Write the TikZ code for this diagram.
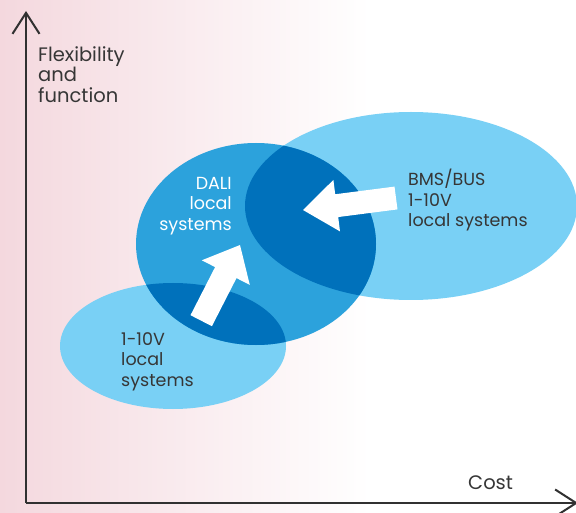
\documentclass[tikz,border=0pt]{standalone}
\usepackage{fontspec}
\setmainfont{Poppins}
\usetikzlibrary{arrows.meta,positioning}

\definecolor{bgpink}{HTML}{F4D8DE}
\definecolor{lightblue}{HTML}{79D0F5}
\definecolor{midblue}{HTML}{2CA2DC}
\definecolor{darkblue}{HTML}{0071BB}
\definecolor{txtgrey}{HTML}{363636}

\tikzset{
  axis/.style={line width=2.4pt, draw=txtgrey!90!black, -{Straight Barb[length=21pt,width=27pt,line width=2pt]}},
  lbl/.style={text=txtgrey, font=\fontsize{17.5}{20.5}\selectfont, align=left, inner sep=0pt},
  axislbl/.style={lbl, font=\fontsize{19.5}{20.5}\selectfont},
  whitelbl/.style={lbl, text=white, align=right},
  blockarrow/.style={fill=white, draw=none}
}

\begin{document}
\begin{tikzpicture}[x=1pt,y=-1pt]
\useasboundingbox (0,0) rectangle (576,513);

% background
\fill[white] (0,0) rectangle (576,513);
\shade[left color=bgpink, right color=white] (0,0) rectangle (370,513);

% the three groups of systems
\fill[lightblue] (173,346) ellipse [x radius=113, y radius=63];
\fill[lightblue] (411,206) ellipse [x radius=166, y radius=94];
\fill[midblue] (256,244) ellipse [x radius=120, y radius=101];
\begin{scope}
  \clip (256,244) ellipse [x radius=120, y radius=101];
  \fill[darkblue] (411,206) ellipse [x radius=166, y radius=94];
  \fill[darkblue] (173,346) ellipse [x radius=113, y radius=63];
\end{scope}

% upgrade arrows
\fill[blockarrow] (240,245) -- (249.8,284.9) -- (236.5,278.1) -- (211.9,326.2)
  -- (190.5,315.2) -- (215.1,267.1) -- (201.8,260.3) -- cycle;
\fill[blockarrow] (303,210) -- (333.4,179.9) -- (335.2,194.25) -- (394.5,186.6)
  -- (397.5,209.4) -- (338.2,217.05) -- (340.0,231.4) -- cycle;

% axes
\coordinate (origin) at (26,503);
\coordinate (ytop) at (26,11);
\coordinate (xend) at (578,503);
\draw[axis] (origin) -- (ytop);
\draw[axis] (origin) -- (xend);

\node[axislbl, anchor=north west] (flexlbl) at (38,46) {Flexibility\\and\\function};
\node[axislbl, anchor=base west] (costlbl) at (468,489) {Cost};

\node[whitelbl, anchor=north east] (dali) at (232,177) {DALI\\local\\systems};
\node[lbl, anchor=north west] (bms) at (408,169) {BMS/BUS\\1-10V\\local systems};
\node[lbl, anchor=north west] (analog) at (121,332) {1-10V\\local\\systems};
\end{tikzpicture}
\end{document}
